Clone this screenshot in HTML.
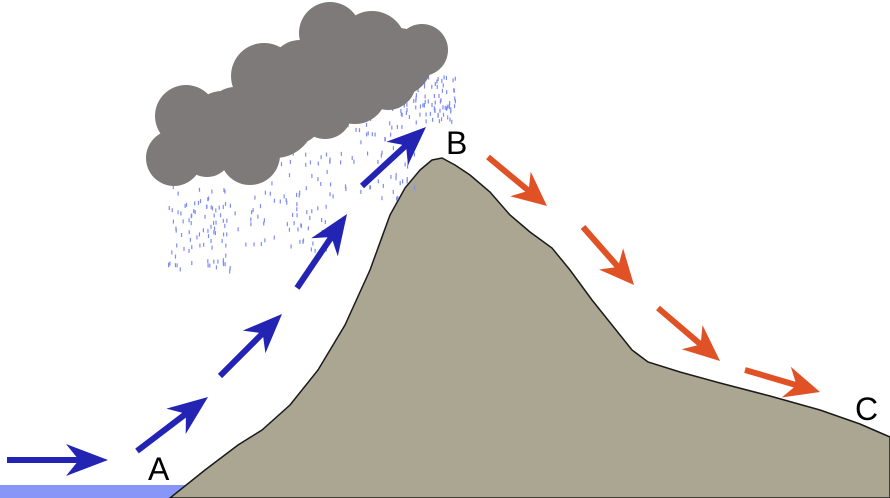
<!DOCTYPE html>
<html><head><meta charset="utf-8"><style>html,body{margin:0;padding:0;background:#fff}svg{display:block}</style></head>
<body>
<svg id="s" width="890" height="498" viewBox="0 0 890 498" xmlns="http://www.w3.org/2000/svg">
<rect x="0" y="485" width="200" height="13" fill="#8896f8"/>
<path d="M170,498 L205,470 L238,445 L262,430 L290,405 L318,370 L345,325 L370,270 L390,215 L405,188 L420,170 L432,160 L442,158 L455,165 L470,175 L490,192 L510,215 L530,232 L552,248 L570,270 L592,300 L612,325 L632,350 L648,362 L680,372 L720,383 L770,396 L820,410 L860,424 L890,437 L890,498 Z" fill="#aaa691" stroke="#1a1a1a" stroke-width="1.5"/>
<g id="rain" fill="#7c8cf5"></g>
<g fill="#7f7a7a">
<circle cx="174" cy="158" r="28"/><circle cx="186" cy="116" r="31"/><circle cx="222" cy="122" r="31"/><circle cx="207" cy="152" r="25"/>
<circle cx="250" cy="155" r="30"/><circle cx="264" cy="76" r="33"/><circle cx="275" cy="118" r="40"/><circle cx="303" cy="100" r="34"/>
<circle cx="330" cy="33" r="31"/><circle cx="372" cy="45" r="34"/><circle cx="422" cy="50" r="26"/><circle cx="398" cy="62" r="34"/>
<circle cx="355" cy="92" r="32"/><circle cx="325" cy="112" r="27"/><circle cx="300" cy="70" r="30"/><circle cx="240" cy="140" r="28"/>
<circle cx="290" cy="110" r="36"/><circle cx="345" cy="72" r="32"/><circle cx="388" cy="82" r="28"/><circle cx="235" cy="115" r="28"/><circle cx="200" cy="135" r="28"/>
</g>
<g id="arr"></g>
<g font-family="Liberation Sans, DejaVu Sans, sans-serif" font-size="32" fill="#000">
<text x="148" y="480">A</text><text x="446" y="154">B</text><text x="855" y="420">C</text>
</g>
</svg>
<script>
var NS="http://www.w3.org/2000/svg";
var seed=7;function r(){seed=(seed*16807)%2147483647;return seed/2147483647;}
var rain=document.getElementById('rain');
var zones=[[168,230,185,270],[230,330,150,250],[320,420,90,200],[400,455,75,120]];
for(var z=0;z<zones.length;z++){var a=zones[z];for(var i=0;i<90;i++){var x=a[0]+r()*(a[1]-a[0]),y=a[2]+r()*(a[3]-a[2]);
var e=document.createElementNS(NS,'rect');e.setAttribute('x',x);e.setAttribute('y',y);e.setAttribute('width',1.2);e.setAttribute('height',4);rain.appendChild(e);}}
var g=document.getElementById('arr');
function arrow(x1,y1,x2,y2,c){var dx=x2-x1,dy=y2-y1,L=Math.hypot(dx,dy),ux=dx/L,uy=dy/L,px=-uy,py=ux;
var hl=Math.min(42,L*0.45),hw=16,n=hl*0.25,w=3;
function P(t,s){return (x1+ux*t+px*s).toFixed(1)+','+(y1+uy*t+py*s).toFixed(1);}
var pts=[P(0,-w),P(L-hl+n,-w),P(L-hl,-hw),P(L,0),P(L-hl,hw),P(L-hl+n,w),P(0,w)];
var p=document.createElementNS(NS,'polygon');p.setAttribute('points',pts.join(' '));p.setAttribute('fill',c);g.appendChild(p);}
var B='#2323b4',R='#e05225';
arrow(7,460,108,460,B);arrow(137,451,208,397,B);arrow(220,376,282,314,B);arrow(297,288,347,214,B);arrow(362,186,426,127,B);
arrow(488,157,547,206,R);arrow(583,227,634,285,R);arrow(658,308,720,361,R);arrow(745,370,820,392,R);
</script>
</body></html>
